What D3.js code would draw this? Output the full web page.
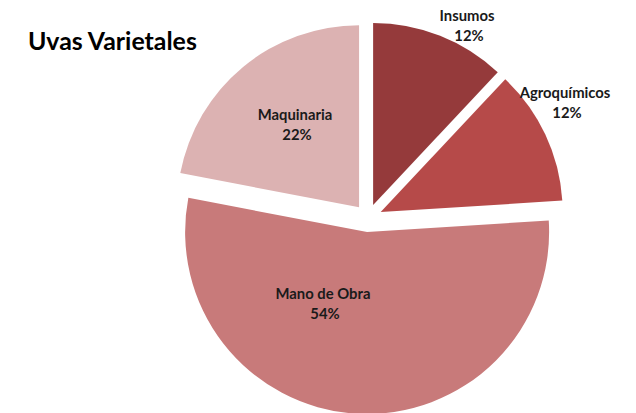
<!DOCTYPE html>
<html>
<head>
<meta charset="utf-8">
<script src="https://cdn.jsdelivr.net/npm/d3@7"></script>
<style>
  html, body { margin: 0; padding: 0; background: #ffffff; }
  svg { display: block; }
</style>
</head>
<body>
<svg id="chart" width="636" height="413"></svg>
<script>
const categories = ["Insumos", "Agroquímicos", "Mano de Obra", "Maquinaria"];
const values = [12, 12, 54, 22];
const percentLabels = ["12%", "12%", "54%", "22%"];
const colors = ["#953a3b", "#b64a49", "#c87a7a", "#dcb2b2"];
const title = "Uvas Varietales";

const W = 636, H = 413;
const cx = 368, cy = 218, R = 182, explode = 14;
const FONT = "Lato, 'Open Sans', sans-serif";

const svg = d3.select("#chart");

const data = categories.map((c, i) => ({ name: c, value: values[i], label: percentLabels[i], color: colors[i] }));

const pie = d3.pie().sort(null).value(d => d.value).startAngle(0).endAngle(2 * Math.PI);
const arcs = pie(data);
const arc = d3.arc().innerRadius(0).outerRadius(R);

const g = svg.append("g").attr("transform", `translate(${cx},${cy})`);

const labelPos = [
  { x: 99, y: -197 },
  { x: 197, y: -120 },
  { x: -45, y: 81 },
  { x: -73, y: -98 }
];

arcs.forEach((a) => {
  const mid = (a.startAngle + a.endAngle) / 2;
  const dx = explode * Math.sin(mid), dy = -explode * Math.cos(mid);
  g.append("path")
    .attr("d", arc(a))
    .attr("transform", `translate(${dx},${dy})`)
    .attr("fill", a.data.color);
});

// measure to match label size of the reference
const probe = svg.append("text").attr("font-family", FONT).attr("font-weight", "bold")
  .attr("font-size", 13).text("Mano de Obra");
const w13 = probe.node().getComputedTextLength();
probe.remove();
const labelSize = Math.min(15, 13 * 95 / w13);

arcs.forEach((a, i) => {
  const p = labelPos[i];
  const t = g.append("text")
    .attr("x", p.x).attr("y", p.y)
    .attr("text-anchor", "middle")
    .attr("font-family", FONT)
    .attr("font-weight", "bold")
    .attr("font-size", labelSize)
    .attr("fill", "#1a1a1a");
  t.append("tspan").attr("x", p.x).attr("dy", 0).text(a.data.name);
  t.append("tspan").attr("x", p.x + 2).attr("dy", 19.5).text(a.data.label);
});

const tt = svg.append("text")
  .attr("x", 28).attr("y", 50)
  .attr("font-family", FONT)
  .attr("font-weight", "bold")
  .attr("font-size", 23)
  .attr("fill", "#000")
  .text(title);
const tw = tt.node().getComputedTextLength();
tt.attr("font-size", Math.min(26, 23 * 169 / tw));
</script>
</body>
</html>
